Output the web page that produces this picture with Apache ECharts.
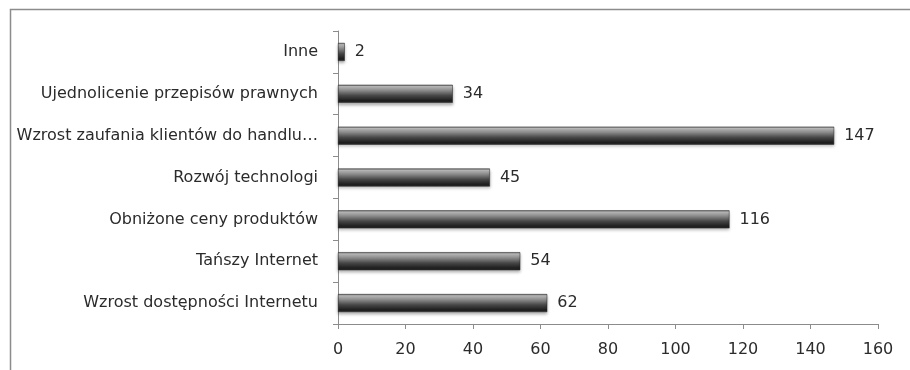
<!DOCTYPE html>
<html>
<head>
<meta charset="utf-8">
<script src="https://cdn.jsdelivr.net/npm/echarts@6/dist/echarts.min.js"></script>
<style>
  html, body { margin: 0; padding: 0; background: #fff; }
  #chart { width: 910px; height: 370px; }
</style>
</head>
<body>
<div id="chart"></div>
<script>
// Categories from top to bottom
const categories = [
  'Inne',
  'Ujednolicenie przepisów prawnych',
  'Wzrost zaufania klientów do handlu…',
  'Rozwój technologi',
  'Obniżone ceny produktów',
  'Tańszy Internet',
  'Wzrost dostępności Internetu'
];
const counts = [2, 34, 147, 45, 116, 54, 62];
const xTicks = [0, 20, 40, 60, 80, 100, 120, 140, 160];

const FONT = '"DejaVu Sans", sans-serif';
const TEXT = '#2b2b2b';

// Glossy dark cylinder-like fill for the bars
const barFill = new echarts.graphic.LinearGradient(0, 0, 0, 1, [
  { offset: 0.00, color: '#6a6a6a' },
  { offset: 0.10, color: '#bdbdbd' },
  { offset: 0.30, color: '#8e8e8e' },
  { offset: 0.60, color: '#474747' },
  { offset: 0.88, color: '#1e1e1e' },
  { offset: 1.00, color: '#2c2c2c' }
]);

const chart = echarts.init(document.getElementById('chart'), null, { renderer: 'canvas' });
chart.setOption({
  animation: false,
  backgroundColor: '#ffffff',
  graphic: [{
    type: 'rect',
    shape: { x: 10.5, y: 9.5, width: 960, height: 400 },
    style: { fill: 'none', stroke: '#8c8c8c', lineWidth: 1.5 },
    silent: true,
    z: 0
  }],
  grid: { left: 338, right: 32, top: 31, bottom: 46, containLabel: false },
  xAxis: {
    type: 'value',
    min: xTicks[0],
    max: xTicks[xTicks.length - 1],
    interval: xTicks[1] - xTicks[0],
    axisLine: { show: true, lineStyle: { color: '#8c8c8c', width: 1 } },
    axisTick: { show: true, length: 5, lineStyle: { color: '#8c8c8c' } },
    splitLine: { show: false },
    axisLabel: { color: TEXT, fontFamily: FONT, fontSize: 16, margin: 18 }
  },
  yAxis: {
    type: 'category',
    data: categories,
    inverse: true,
    axisLine: { show: true, lineStyle: { color: '#8c8c8c', width: 1 } },
    axisTick: { show: true, length: 5, lineStyle: { color: '#8c8c8c' } },
    axisLabel: { color: TEXT, fontFamily: FONT, fontSize: 16, margin: 20 }
  },
  series: [{
    type: 'bar',
    data: counts,
    barWidth: 18,
    itemStyle: {
      color: barFill,
      borderColor: '#222',
      borderWidth: 0.5,
      shadowBlur: 3,
      shadowOffsetY: 2,
      shadowColor: 'rgba(0,0,0,0.3)'
    },
    label: {
      show: true,
      position: 'right',
      distance: 10,
      color: TEXT,
      fontFamily: FONT,
      fontSize: 16
    }
  }]
});
</script>
</body>
</html>
